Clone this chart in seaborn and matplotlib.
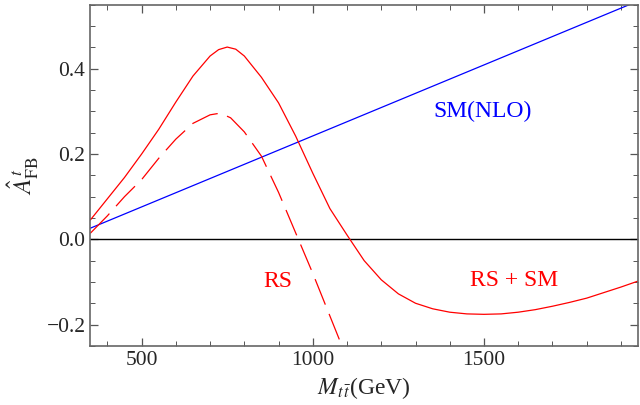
import numpy as np
import pandas as pd
import seaborn as sns
import matplotlib.pyplot as plt
from matplotlib.ticker import MultipleLocator

# values
mass_rs_sm = [350, 400, 450, 500, 550, 600, 650, 700, 725, 750, 775, 800, 850,
              900, 950, 1000, 1050, 1100, 1150, 1200, 1250, 1300, 1350, 1400,
              1450, 1500, 1550, 1600, 1650, 1700, 1750, 1800, 1850, 1900, 1950]
afb_rs_sm = [0.045, 0.095, 0.145, 0.20, 0.258, 0.322, 0.383, 0.43, 0.445, 0.451,
             0.446, 0.43, 0.38, 0.32, 0.242, 0.155, 0.072, 0.01, -0.05, -0.095,
             -0.128, -0.15, -0.163, -0.171, -0.175, -0.176, -0.175, -0.171,
             -0.165, -0.157, -0.148, -0.138, -0.125, -0.112, -0.098]

mass_rs = [350, 400, 450, 500, 550, 600, 650, 700, 730, 760, 800, 850, 900,
           950, 1000, 1050, 1100]
afb_rs = [0.014, 0.055, 0.10, 0.14, 0.19, 0.235, 0.272, 0.292, 0.296, 0.285,
          0.252, 0.195, 0.11, 0.015, -0.08, -0.18, -0.28]

mass_sm = [350, 1950]
afb_sm = [0.026, 0.559]

sns.set_style("ticks")
plt.rcParams['font.family'] = ['Liberation Serif', 'DejaVu Serif']
plt.rcParams['mathtext.fontset'] = 'stix'

fig, ax = plt.subplots(figsize=(6.4, 4.05), dpi=100)
fig.subplots_adjust(left=0.141, right=0.997, top=0.988, bottom=0.146)

ax.axhline(0, color='black', lw=1.0, zorder=1)
sns.lineplot(x=mass_sm, y=afb_sm, color='blue', lw=0.9, ax=ax)
sns.lineplot(x=mass_rs_sm, y=afb_rs_sm, color='red', lw=0.9, ax=ax)
sns.lineplot(x=mass_rs, y=afb_rs, color='red', lw=0.9, ax=ax)
ax.lines[-1].set_dashes((22, 8))

ax.set_xlim(350, 1950)
ax.set_ylim(-0.25, 0.55)
ax.xaxis.set_major_locator(MultipleLocator(500))
ax.xaxis.set_minor_locator(MultipleLocator(100))
ax.yaxis.set_major_locator(MultipleLocator(0.2))
ax.yaxis.set_minor_locator(MultipleLocator(0.05))
ax.yaxis.set_major_formatter(plt.FuncFormatter(lambda v, p: f"{v:.1f}".replace('-', '\u2212')))
ax.tick_params(which='both', direction='in', top=True, right=True,
               labelsize=15.5, color='#555555')
ax.tick_params(which='major', length=6, width=0.9)
ax.tick_params(which='minor', length=3.5, width=0.7)
for s in ax.spines.values():
    s.set_color('#666666')
    s.set_linewidth(1.2)

ax.set_xlabel(r"$M_{t\,\bar{t}}$(GeV)", fontsize=17)
ax.set_ylabel(r"$\hat{A}^{\,t}_{\rm FB}$", fontsize=18)

ax.text(1496, 0.30, "SM(NLO)", color='blue', fontsize=17, ha='center', va='center')
ax.text(897, -0.099, "RS", color='red', fontsize=17, ha='center', va='center')
ax.text(1589, -0.096, "RS + SM", color='red', fontsize=17, ha='center', va='center')

plt.savefig("out.png")
